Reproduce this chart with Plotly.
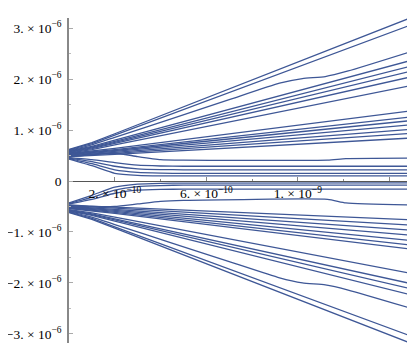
import plotly.graph_objects as go

# x in units of 1e-10, y in units of 1e-6
X_KNOTS = [0, 1, 2, 14.8]

UPPER_STEEP = [
    [0.62, 0.752, 0.928, 3.18],
    [0.61, 0.735, 0.902, 3.04],
    [0.59, 0.681, 0.802, 2.35],
    [0.58, 0.666, 0.780, 2.24],
    [0.57, 0.651, 0.759, 2.14],
    [0.56, 0.636, 0.737, 2.03],
    [0.55, 0.618, 0.708, 1.86],
]
UPPER_MID = [
    [0.54, 0.583, 0.640, 1.37],
    [0.53, 0.567, 0.616, 1.25],
    [0.52, 0.554, 0.599, 1.18],
    [0.51, 0.540, 0.581, 1.10],
    [0.50, 0.526, 0.561, 1.01],
    [0.49, 0.513, 0.543, 0.93],
    [0.48, 0.499, 0.524, 0.84],
]
LOWER_STEEP = [
    [-0.62, -0.751, -0.925, -3.16],
    [-0.61, -0.734, -0.900, -3.02],
    [-0.59, -0.674, -0.786, -2.22],
    [-0.58, -0.658, -0.763, -2.10],
    [-0.57, -0.644, -0.742, -2.00],
    [-0.56, -0.624, -0.709, -1.80],
]
LOWER_MID = [
    [-0.54, -0.581, -0.635, -1.33],
    [-0.53, -0.567, -0.616, -1.25],
    [-0.52, -0.553, -0.597, -1.16],
    [-0.51, -0.538, -0.576, -1.06],
    [-0.50, -0.524, -0.556, -0.96],
    [-0.49, -0.509, -0.534, -0.86],
    [-0.48, -0.494, -0.513, -0.76],
]

# bent lines (flat band near zero and avoided-crossing steps): x and y lists
BENT_X = [
    [0, 1, 2, 3, 4, 5, 14.8],
    [0, 1, 2, 3, 4, 5, 14.8],
    [0, 1, 2, 3, 4, 5, 14.8],
    [0, 1, 2, 3, 4, 5, 14.8],
    [0, 1, 2, 3, 4, 5, 14.8],
    [0, 1, 2, 3, 4, 5, 14.8],
    [0, 1, 2, 3, 4, 5, 14.8],
    [0, 1, 2, 4.5, 7, 9.2, 10.2, 11.2, 12.2, 14.8],
    [0, 1, 2, 4.5, 7, 9.2, 10.2, 11.2, 12.2, 14.8],
    [0, 1, 2, 3, 4, 5, 11.3, 12.1, 14.8],
    [0, 1, 2, 3, 4, 5, 11.3, 12.1, 14.8],
]
BENT_Y = [
    [0.46, 0.42, 0.36, 0.31, 0.295, 0.29, 0.29],
    [0.45, 0.38, 0.29, 0.24, 0.225, 0.22, 0.22],
    [0.44, 0.34, 0.22, 0.17, 0.155, 0.15, 0.15],
    [0.43, 0.30, 0.15, 0.11, 0.10, 0.10, 0.10],
    [-0.43, -0.28, -0.12, -0.06, -0.045, -0.04, -0.035],
    [-0.44, -0.32, -0.18, -0.11, -0.09, -0.08, -0.08],
    [-0.45, -0.36, -0.24, -0.18, -0.165, -0.16, -0.16],
    [0.60, 0.711, 0.858, 1.227, 1.596, 1.92, 2.01, 2.05, 2.16, 2.52],
    [-0.60, -0.709, -0.854, -1.218, -1.581, -1.90, -2.00, -2.04, -2.14, -2.48],
    [0.47, 0.52, 0.55, 0.48, 0.42, 0.41, 0.41, 0.44, 0.45],
    [-0.47, -0.50, -0.50, -0.45, -0.40, -0.38, -0.36, -0.43, -0.47],
]

Y_TICKS = [-3, -2, -1, 0, 1, 2, 3]
Y_LABELS = ["\u22123. \u00d7 10<sup>\u22126</sup>", "\u22122. \u00d7 10<sup>\u22126</sup>",
            "\u22121. \u00d7 10<sup>\u22126</sup>", "0", "1. \u00d7 10<sup>\u22126</sup>",
            "2. \u00d7 10<sup>\u22126</sup>", "3. \u00d7 10<sup>\u22126</sup>"]
X_TICKS = [2, 6, 10, 14]
X_LABELS = ["2. \u00d7 10<sup>\u221210</sup>", "6. \u00d7 10<sup>\u221210</sup>",
            "1. \u00d7 10<sup>\u22129</sup>", "1.4 \u00d7 10<sup>\u22129</sup>"]

COLOR = "rgb(62,87,150)"
YMIN, YMAX = -3.18, 3.2

fig = go.Figure()
for group in (UPPER_STEEP, UPPER_MID, LOWER_STEEP, LOWER_MID):
    for ys in group:
        fig.add_trace(go.Scatter(x=X_KNOTS, y=ys, mode="lines",
                                 line=dict(color=COLOR, width=1.3),
                                 hoverinfo="skip", showlegend=False))
for xs, ys in zip(BENT_X, BENT_Y):
    fig.add_trace(go.Scatter(x=xs, y=ys, mode="lines",
                             line=dict(color=COLOR, width=1.3, shape="spline", smoothing=0.5),
                             hoverinfo="skip", showlegend=False))

font = dict(family="Liberation Serif", size=13.5, color="black")
# the page body adds an 8px offset, so the figure is 8px smaller than the window
fig.update_layout(
    width=407, height=352,
    margin=dict(l=61, r=5, t=10, b=17),
    paper_bgcolor="white", plot_bgcolor="white",
    showlegend=False,
    xaxis=dict(range=[0, 14.9], anchor="free", position=(0 - YMIN) / (YMAX - YMIN),
               automargin=False,
               showgrid=False, zeroline=False, showline=True, linecolor="#555555", linewidth=1,
               tickmode="array", tickvals=X_TICKS, ticktext=X_LABELS,
               ticks="inside", ticklen=4, tickcolor="#888888", tickfont=font,
               ticklabelstandoff=0,
               minor=dict(tickvals=[4, 8, 12], ticks="inside", ticklen=2, tickcolor="#888888")),
    yaxis=dict(range=[YMIN, YMAX], automargin=False,
               showgrid=False, zeroline=False, showline=True,
               linecolor="#888888", linewidth=1.6,
               tickmode="array", tickvals=Y_TICKS, ticktext=Y_LABELS,
               ticks="inside", ticklen=4, tickcolor="#aaaaaa", tickfont=font,
               ticklabelstandoff=3,
               minor=dict(dtick=0.5, ticks="inside", ticklen=2, tickcolor="#bbbbbb")),
)
fig.write_html("out.html")
